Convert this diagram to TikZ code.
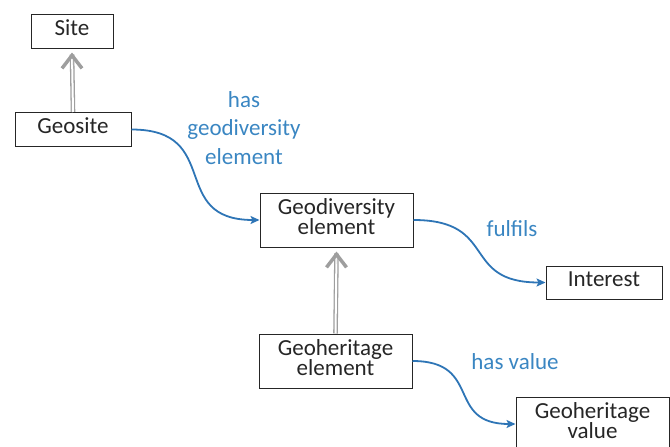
\documentclass[tikz,border=0pt]{standalone}
\usepackage{fontspec}
\setmainfont{Carlito}
\usetikzlibrary{arrows.meta}
\definecolor{linkblue}{HTML}{2E75B6}
\definecolor{labelblue}{HTML}{3A86C2}
\definecolor{isagray}{HTML}{9E9E9E}
\begin{document}
\begin{tikzpicture}[x=1pt,y=-1pt,
  box/.style={draw=black!85,line width=1pt,fill=white,inner sep=0pt,
    font=\fontsize{23}{20}\selectfont,align=center,text=black!85},
  onebox/.style={box,text height=15pt,text depth=7pt},
  twobox/.style={box,text height=35pt,text depth=7pt},
  lbl/.style={text=labelblue,font=\fontsize{23}{28.5}\selectfont,align=center,inner sep=0pt},
  isa/.style={draw=isagray,double=white,double distance=2pt,line width=1.3pt},
  isatip/.style={draw=isagray,line width=0.01pt,
    -{Straight Barb[length=13pt,width=20pt,line width=3.5pt]}},
  rel/.style={draw=linkblue,line width=1.8pt,
    -{Stealth[length=9pt,width=8pt,inset=2pt]},out=0,in=180,looseness=1.5}]
\useasboundingbox (0,0) rectangle (670,447);

% concept boxes
\node[onebox,minimum width=82pt,minimum height=34pt] (site) at (72,31) {Site};
\node[onebox,minimum width=116pt,minimum height=34pt] (geosite) at (73,129.5) {Geosite};
\node[twobox,minimum width=153pt,minimum height=54pt] (geodiv) at (336.5,220) {Geodiversity\\element};
\node[onebox,minimum width=116pt,minimum height=33pt] (interest) at (604,282.5) {Interest};
\node[twobox,minimum width=153pt,minimum height=54pt] (geoher) at (335.5,361) {Geoheritage\\element};
\node[twobox,minimum width=153pt,minimum height=54pt] (geoval) at (592.5,424) {Geoheritage\\value};

% subclass links
\draw[isa] (geosite.north) -- ([yshift=-6pt]site.south);
\draw[isatip] ([yshift=-16pt]site.south) -- ([yshift=-4pt]site.south);
\draw[isa] (geoher.north) -- ([yshift=-6pt]geodiv.south);
\draw[isatip] ([yshift=-16pt]geodiv.south) -- ([yshift=-4pt]geodiv.south);

% relations
\draw[rel] (geosite.east) to (geodiv.west);
\draw[rel] (geodiv.east) to (interest.west);
\draw[rel] (geoher.east) to (geoval.west);

% relation labels
\node[lbl] (lhas) at (244,128) {has\\geodiversity\\element};
\node[lbl] (lful) at (512,229) {fulfils};
\node[lbl] (lval) at (515,362) {has value};
\end{tikzpicture}
\end{document}
